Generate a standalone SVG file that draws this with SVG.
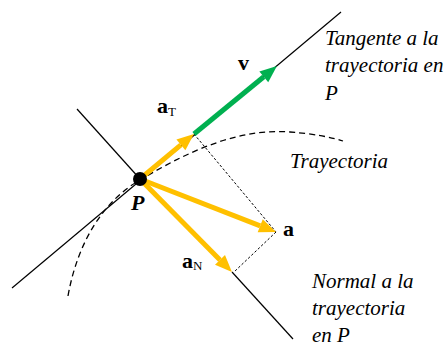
<svg xmlns="http://www.w3.org/2000/svg" width="447" height="347" viewBox="0 0 447 347">
<style>
.ln{stroke:#000;stroke-width:1.2;fill:none}
.dot{stroke:#000;stroke-width:1;stroke-dasharray:2.5,2;fill:none}
.traj{stroke:#000;stroke-width:1.3;stroke-dasharray:6,4;fill:none}
.ya{stroke:#FFC000;stroke-width:5;fill:none}
.ga{stroke:#00B050;stroke-width:5;fill:none}
.it{font-family:"Liberation Serif",serif;font-style:italic;font-size:21px;fill:#000}
.bd{font-family:"Liberation Serif",serif;font-weight:bold;font-size:22px;fill:#000}
.sub{font-family:"Liberation Serif",serif;font-size:13px;font-weight:normal;fill:#000}
</style>
<defs>
<marker id="ah-y" viewBox="0 -7 17 14" refX="0" refY="0" markerWidth="17" markerHeight="14" markerUnits="userSpaceOnUse" orient="auto" overflow="visible">
<path d="M0,-7 L17,0 L0,7 z" fill="#FFC000"/>
</marker>
<marker id="ah-g" viewBox="0 -7 17 14" refX="0" refY="0" markerWidth="17" markerHeight="14" markerUnits="userSpaceOnUse" orient="auto" overflow="visible">
<path d="M0,-7 L17,0 L0,7 z" fill="#00B050"/>
</marker>
</defs>
<g id="connectors">
<line class="ln" x1="12" y1="288" x2="341" y2="12"/>
<line class="ln" x1="77" y1="109" x2="140" y2="179"/>
<line class="ln" x1="232" y1="272" x2="293" y2="339"/>
<path class="traj" d="M68,296 C78,240 105,200 140,180 C190,150 240,128 290,132 C315,134 330,137 343,141"/>
<line class="dot" x1="194" y1="134" x2="276" y2="232"/>
<line class="dot" x1="276" y1="232" x2="234" y2="272"/>
<line class="ga" x1="194" y1="134" x2="263.8" y2="76.8" marker-end="url(#ah-g)"/>
<line class="ya" x1="140" y1="179" x2="180.9" y2="144.9" marker-end="url(#ah-y)"/>
<line class="ya" x1="140" y1="179" x2="260.2" y2="225.8" marker-end="url(#ah-y)"/>
<line class="ya" x1="140" y1="179" x2="220.0" y2="259.9" marker-end="url(#ah-y)"/>
</g>
<g id="P">
<circle cx="140" cy="179" r="7" fill="#000"/>
<text x="131" y="210" class="bd" font-style="italic" font-size="20px">P</text>
</g>
<g id="v"><text x="238" y="70" class="bd">v</text></g>
<g id="aT"><text x="157" y="113" class="bd">a<tspan class="sub" dy="3">T</tspan></text></g>
<g id="a"><text x="283" y="236" class="bd">a</text></g>
<g id="aN"><text x="182" y="268" class="bd">a<tspan class="sub" dy="2">N</tspan></text></g>
<g id="tangente">
<text class="it" x="325" y="45">Tangente a la</text>
<text class="it" x="325" y="72">trayectoria en</text>
<text class="it" x="325" y="100">P</text>
</g>
<g id="trayectoria"><text class="it" x="290" y="168">Trayectoria</text></g>
<g id="normal">
<text class="it" x="312" y="288">Normal a la</text>
<text class="it" x="312" y="315">trayectoria</text>
<text class="it" x="312" y="342">en P</text>
</g>
</svg>
